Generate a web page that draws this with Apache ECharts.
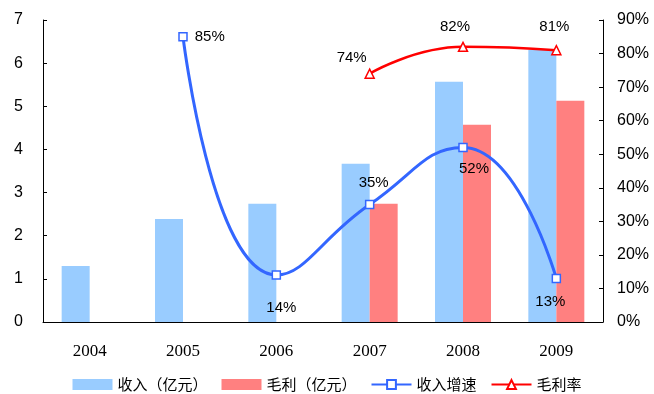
<!DOCTYPE html>
<html>
<head>
<meta charset="utf-8">
<script src="https://cdn.jsdelivr.net/npm/echarts@6/dist/echarts.min.js"></script>
<style>
  html, body { margin: 0; padding: 0; background: #fff; }
  #chart { width: 654px; height: 394px; }
</style>
</head>
<body>
<div id="chart"></div>
<script>
// Revenue and gross profit (100 million yuan), with growth and margin rates (%)
const years = ['2004', '2005', '2006', '2007', '2008', '2009'];
const revenue = [1.3, 2.39, 2.74, 3.67, 5.57, 6.31];
const grossProfit = [null, null, null, 2.74, 4.57, 5.13];
const revenueGrowth = [null, 85, 14, 35, 52, 13];
const grossMargin = [null, null, null, 74, 82, 81];

const leftTicks = [0, 1, 2, 3, 4, 5, 6, 7];
const rightTicks = [0, 10, 20, 30, 40, 50, 60, 70, 80, 90];

// label placement for each growth / margin point
const growthLabelPos = [null, 'right', 'bottom', 'top', 'bottom', 'bottom'];
const growthLabelOffset = [null, [2, 0], [5, 16], [4, -4], [11, 4], [-6, 6]];
const marginLabelPos = [null, null, null, 'top', 'top', 'top'];
const marginLabelOffset = [null, null, null, [-18, 2], [-8, -2], [-2, -6]];

const labelFont = { color: '#000', fontFamily: 'Liberation Sans, Arial', fontSize: 15 };

const chart = echarts.init(document.getElementById('chart'), null, { renderer: 'canvas' });

chart.setOption({
  animation: false,
  backgroundColor: '#fff',
  grid: { left: 43, right: 51, top: 20, bottom: 72, containLabel: false },
  legend: {
    bottom: -3,
    left: 'center',
    itemWidth: 40,
    itemHeight: 11,
    itemGap: 14,
    textStyle: { fontFamily: 'Noto Sans CJK SC', fontSize: 15, color: '#000' },
    data: [
      { name: '收入（亿元）', icon: 'rect' },
      { name: '毛利（亿元）', icon: 'rect' },
      { name: '收入增速' },
      { name: '毛利率' }
    ]
  },
  xAxis: {
    type: 'category',
    data: years,
    boundaryGap: true,
    axisLine: { lineStyle: { color: '#000', width: 1 } },
    axisTick: { inside: true, length: 5, alignWithLabel: false, lineStyle: { color: '#000' } },
    axisLabel: { color: '#000', fontFamily: 'Liberation Serif, Times New Roman', fontSize: 17, margin: 21 }
  },
  yAxis: [
    {
      type: 'value',
      min: leftTicks[0],
      max: leftTicks[leftTicks.length - 1],
      interval: 1,
      splitLine: { show: false },
      axisLine: { show: true, lineStyle: { color: '#000', width: 1 } },
      axisTick: { show: true, inside: true, length: 4, lineStyle: { color: '#000' } },
      axisLabel: { color: '#000', fontFamily: 'Liberation Sans, Arial', fontSize: 16, margin: 20 }
    },
    {
      type: 'value',
      min: rightTicks[0],
      max: rightTicks[rightTicks.length - 1],
      interval: 10,
      splitLine: { show: false },
      axisLine: { show: true, lineStyle: { color: '#000', width: 1 } },
      axisTick: { show: true, inside: true, length: 4, lineStyle: { color: '#000' } },
      axisLabel: { color: '#000', fontFamily: 'Liberation Sans, Arial', fontSize: 16, margin: 14, formatter: '{value}%' }
    }
  ],
  series: [
    {
      name: '收入（亿元）',
      type: 'bar',
      data: revenue,
      barWidth: 28,
      barGap: '0%',
      itemStyle: { color: '#99CCFF' }
    },
    {
      name: '毛利（亿元）',
      type: 'bar',
      data: grossProfit,
      barWidth: 28,
      barGap: '0%',
      itemStyle: { color: '#FF8080' }
    },
    {
      name: '收入增速',
      type: 'line',
      yAxisIndex: 1,
      smooth: 0.5,
      connectNulls: false,
      symbol: 'rect',
      symbolSize: 8,
      lineStyle: { color: '#3366FF', width: 3 },
      itemStyle: { color: '#fff', borderColor: '#3366FF', borderWidth: 1.5 },
      z: 5,
      data: revenueGrowth.map((v, i) => v === null ? null : {
        value: v,
        label: {
          show: true,
          position: growthLabelPos[i],
          offset: growthLabelOffset[i],
          formatter: p => p.value + '%',
          ...labelFont
        }
      })
    },
    {
      name: '毛利率',
      type: 'line',
      yAxisIndex: 1,
      smooth: 0.5,
      symbol: 'triangle',
      symbolSize: 9,
      lineStyle: { color: '#FF0000', width: 2.5 },
      itemStyle: { color: '#fff', borderColor: '#FF0000', borderWidth: 1.5 },
      z: 5,
      data: grossMargin.map((v, i) => v === null ? null : {
        value: v,
        label: {
          show: true,
          position: marginLabelPos[i],
          offset: marginLabelOffset[i],
          formatter: p => p.value + '%',
          ...labelFont
        }
      })
    }
  ]
});
</script>
</body>
</html>
